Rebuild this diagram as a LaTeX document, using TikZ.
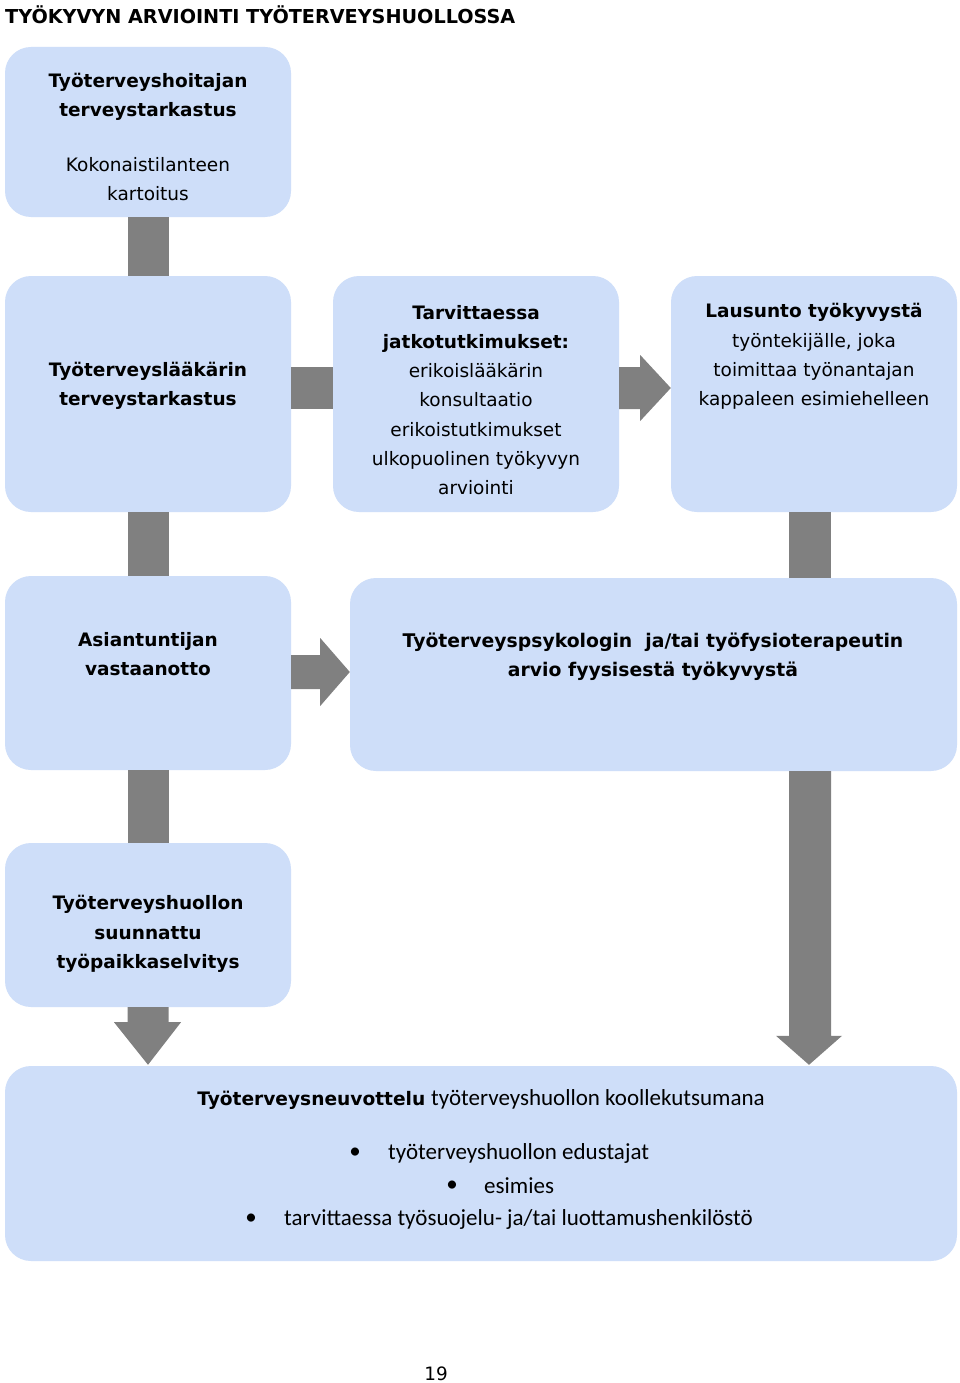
\documentclass[tikz,border=0pt]{standalone}
\usepackage{fontspec}
\setmainfont{DejaVu Sans}
\newfontfamily\calib{Carlito}
\usetikzlibrary{calc}
\definecolor{boxblue}{RGB}{206,222,249}
\definecolor{conngray}{RGB}{128,128,128}
\begin{document}
\begin{tikzpicture}[x=1pt,y=-1pt,
  box/.style={fill=boxblue, rounded corners=26pt, inner sep=0pt, draw=none},
  conn/.style={fill=conngray, draw=none},
  txt/.style={align=center, font=\fontsize{18.5}{29.3}\selectfont, inner sep=0pt, text=black},
  cal/.style={font=\calib\fontsize{23}{29}\selectfont, inner sep=0pt, text=black},
  bul/.style={font=\calib\fontsize{23}{29}\selectfont, inner sep=0pt, text=black}
  ]
\useasboundingbox (0,0) rectangle (960,1383);
\fill[white] (0,0) rectangle (960,1383);
% title
\node[anchor=west, inner sep=0pt, font=\fontsize{19.2}{23}\selectfont\bfseries] (title) at (5,15) {TYÖKYVYN ARVIOINTI TYÖTERVEYSHUOLLOSSA};
% boxes
\node[box, minimum width=286pt, minimum height=170pt] (b1) at (148,132) {};
\node[box, minimum width=286pt, minimum height=236pt] (b2) at (148,394) {};
\node[box, minimum width=286pt, minimum height=236pt] (b3) at (476,394) {};
\node[box, minimum width=286pt, minimum height=236pt] (b4) at (814,394) {};
\node[box, minimum width=286pt, minimum height=194pt] (b5) at (148,673) {};
\node[box, minimum width=607pt, minimum height=193pt] (b6) at (653.5,674.5) {};
\node[box, minimum width=286pt, minimum height=164pt] (b7) at (148,925) {};
\node[box, minimum width=952pt, minimum height=195pt] (b8) at (481,1163.5) {};
% connectors
\fill[conn] ($(b1.south)+(-20.5,0)$) rectangle ($(b2.north)+(20.5,0)$);
\fill[conn] ($(b2.east)+(0,-27)$) rectangle ($(b3.west)+(0,15)$);
\fill[conn] ($(b3.east)+(0,-27)$) -- ($(b3.east)+(21,-27)$) -- ($(b3.east)+(21,-39)$)
  -- ($(b4.west)+(0,-6)$) -- ($(b3.east)+(21,27)$) -- ($(b3.east)+(21,15)$) -- ($(b3.east)+(0,15)$) -- cycle;
\fill[conn] ($(b2.south)+(-20.5,0)$) rectangle ($(b5.north)+(20.5,0)$);
\coordinate (k46) at ($(b4.south)+(17,0)$);
\fill[conn] ($(b4.south)+(-25,0)$) rectangle (k46 |- b6.north);
\fill[conn] ($(b5.east)+(0,-18)$) -- ($(b5.east)+(29,-18)$) -- ($(b5.east)+(29,-35)$)
  -- ($(b6.west)+(0,-2.5)$) -- ($(b5.east)+(29,33)$) -- ($(b5.east)+(29,16)$) -- ($(b5.east)+(0,16)$) -- cycle;
\fill[conn] ($(b5.south)+(-20.5,0)$) rectangle ($(b7.north)+(20.5,0)$);
\coordinate (tip78) at (b7.south |- b8.north);
\fill[conn] ($(b7.south)+(-20.5,0)$) -- ($(b7.south)+(-20.5,15)$) -- ($(b7.south)+(-34,15)$)
  -- ($(tip78)+(0,-1)$) -- ($(b7.south)+(33,15)$) -- ($(b7.south)+(20.5,15)$) -- ($(b7.south)+(20.5,0)$) -- cycle;
\coordinate (a6) at (b4.south |- b6.south);
\coordinate (a8) at (b4.south |- b8.north);
\fill[conn] ($(a6)+(-25,0)$) -- ($(a8)+(-25,-30)$) -- ($(a8)+(-38,-30)$) -- ($(a8)+(-5,-1)$)
  -- ($(a8)+(28,-30)$) -- ($(a8)+(17,-30)$) -- ($(a6)+(17,0)$) -- cycle;
% texts
\node[txt] (t1a) at (148,96.5) {\textbf{Työterveyshoitajan}\\\textbf{terveystarkastus}};
\node[txt] (t1b) at (148,179) {Kokonaistilanteen\\kartoitus};
\node[txt] (t2) at (148,385.5) {\textbf{Työterveyslääkärin}\\\textbf{terveystarkastus}};
\node[txt] (t3) at (476,400) {\textbf{Tarvittaessa}\\\textbf{jatkotutkimukset:}\\erikoislääkärin\\konsultaatio\\erikoistutkimukset\\ulkopuolinen työkyvyn\\arviointi};
\node[txt] (t4) at (814,356.5) {\textbf{Lausunto työkyvystä}\\työntekijälle, joka\\toimittaa työnantajan\\kappaleen esimiehelleen};
\node[txt] (t5) at (148,654) {\textbf{Asiantuntijan}\\\textbf{vastaanotto}};
\node[txt, font=\fontsize{18.8}{29.3}\selectfont] (t6) at (653,657) {\textbf{Työterveyspsykologin\ \ ja/tai työfysioterapeutin}\\\textbf{arvio fyysisestä työkyvystä}};
\node[txt] (t7) at (148,934) {\textbf{Työterveyshuollon}\\\textbf{suunnattu}\\\textbf{työpaikkaselvitys}};
\node[inner sep=0pt] (t8) at (481,1100) {\fontsize{18.6}{22}\selectfont\textbf{Työterveysneuvottelu} {\calib\fontsize{23}{27}\selectfont työterveyshuollon koollekutsumana}};
\node[bul] (p1) at (355,1153) {•};
\node[cal, anchor=west] (l1) at (388,1153) {työterveyshuollon edustajat};
\node[bul] (p2) at (452,1186) {•};
\node[cal, anchor=west] (l2) at (484,1186) {esimies};
\node[bul] (p3) at (251,1219) {•};
\node[cal, anchor=west] (l3) at (284,1219) {tarvittaessa työsuojelu- ja/tai luottamushenkilöstö};
\node[inner sep=0pt, font=\fontsize{18.4}{22}\selectfont] (pg) at (436,1374) {19};
\end{tikzpicture}
\end{document}
